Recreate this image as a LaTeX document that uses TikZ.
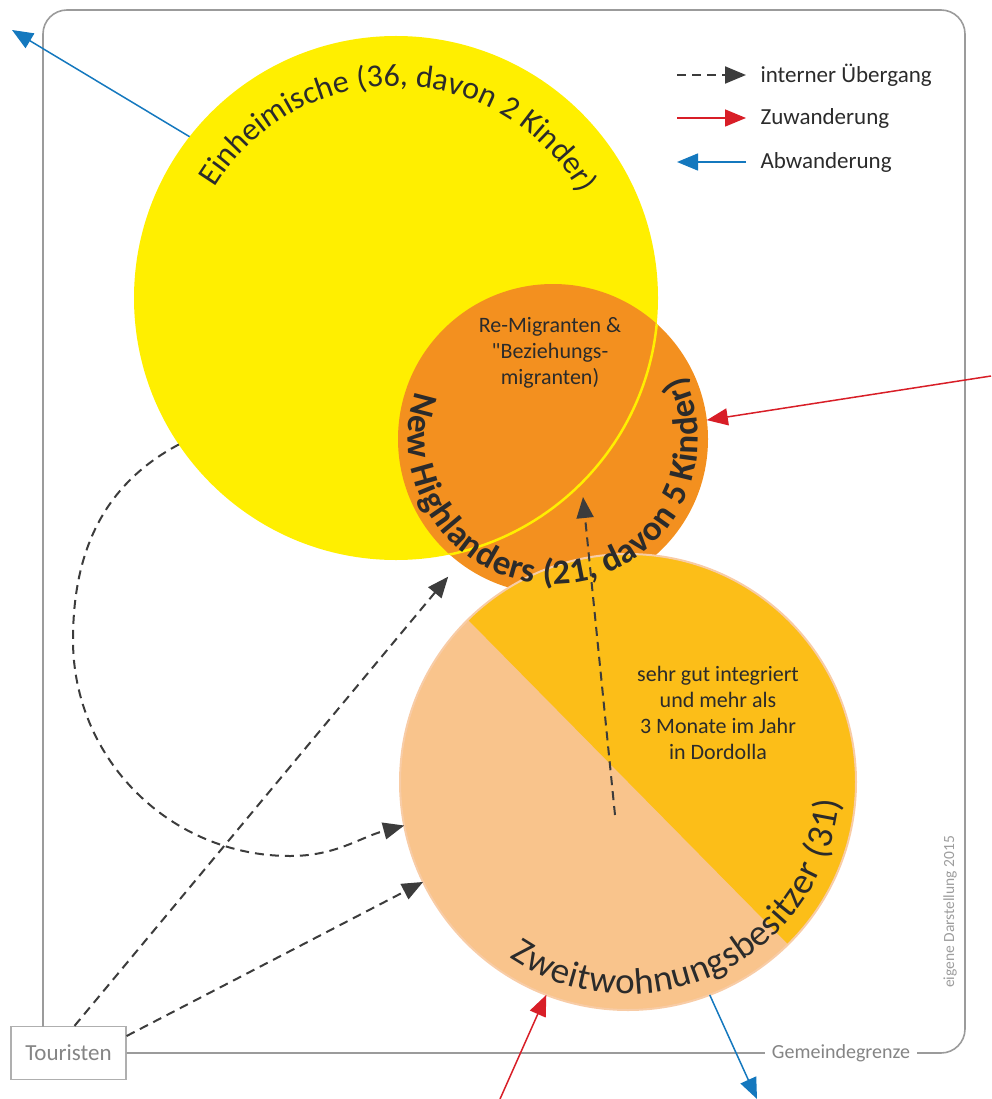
\documentclass[tikz,border=0pt]{standalone}
\usepackage{fontspec}
\setmainfont{Carlito}[Ligatures=TeXOff]
\usetikzlibrary{arrows.meta,decorations.text}

\definecolor{einh}{HTML}{FFEF00}
\definecolor{newh}{HTML}{F3901F}
\definecolor{zwlight}{HTML}{F9C48C}
\definecolor{zwdark}{HTML}{FCBE18}
\definecolor{zwrim}{HTML}{F8CCA6}
\definecolor{inred}{HTML}{D81E27}
\definecolor{outblue}{HTML}{1478BE}
\definecolor{dashgray}{HTML}{3C3C3C}
\definecolor{framegray}{HTML}{9B9B9B}
\definecolor{labelgray}{HTML}{858585}
\definecolor{txt}{HTML}{2B2B2B}

\begin{document}
\begin{tikzpicture}[x=1pt,y=1pt,
  group/.style={circle, inner sep=0pt, outer sep=0pt, minimum size=#1},
  internal/.style={dashgray, line width=2pt, dash pattern=on 9pt off 6pt,
    -{Triangle[length=21pt,width=17pt]}},
  inflow/.style={inred, line width=1.5pt, -{Triangle[length=21pt,width=17pt]}},
  outflow/.style={outblue, line width=1.5pt, -{Triangle[length=21pt,width=17pt]}},
  body/.style={font=\fontsize{22}{26}\selectfont, text=txt, align=center},
  keytext/.style={anchor=west, font=\fontsize{23}{23}\selectfont, text=txt},
  frame/.style={framegray, line width=1.6pt},
  ]
\useasboundingbox (0,0) rectangle (991,-1099);

% population groups
\node[group=524pt, fill=einh] (Y) at (396,-298) {};
\node[group=310pt, fill=newh] (O) at (553,-439) {};
\begin{scope}
  \clip (O.center) circle[radius=155pt];
  \draw[einh, line width=2.5pt] (Y.center) circle[radius=262pt];
\end{scope}
\node[group=456pt, fill=zwlight] (Z) at (628,-782) {};
\fill[zwdark] ([shift={(-45.4:228pt)}]Z.center)
  arc[start angle=-45.4, end angle=134.6, radius=228pt] -- cycle;
\draw[zwrim, line width=2pt] (Z.center) circle[radius=228pt];

% curved group labels
\path[decorate, decoration={text along path, text align=center,
    text={|\fontsize{32}{32}\selectfont\color{txt}|Einheimische (36, davon 2 Kinder)}}]
  ([shift={(151:212pt)}]Y.center) arc[start angle=151, end angle=27, radius=212pt];
\path[decorate, decoration={text along path, text align=fit to path,
    text={|\bfseries\fontsize{35}{35}\selectfont\color{txt}|New Highlanders (21, davon 5 Kinder)}}]
  ([shift={(161:145pt)}]O.center) arc[start angle=161, end angle=386, radius=145pt];
\path[decorate, decoration={text along path, text align=fit to path,
    text={|\fontsize{37}{37}\selectfont\color{txt}|Zweitwohnungsbesitzer (31)}}]
  ([shift={(236:212pt)}]Z.center) arc[start angle=236, end angle=355, radius=212pt];

% inner notes
\node[body] (remig) at (550,-353) {Re-Migranten \&\\"Beziehungs-\\migranten)};
\node[body] (integ) at (718,-713) {sehr gut integriert\\und mehr als\\3 Monate im Jahr\\in Dordolla};

% municipal boundary and tourists
\node[draw=framegray!80, line width=1.2pt, fill=white, minimum width=115pt,
  minimum height=53pt, inner sep=0pt, text=labelgray,
  font=\fontsize{23}{23}\selectfont] (tour) at (68.5,-1053) {Touristen};
\coordinate (fr1) at (43,-1026.5);
\draw[frame, rounded corners=24pt] (fr1) -- (43,-10) -- (965,-10) -- (965,-1053) -- (tour.east);
\node[fill=white, text=labelgray, font=\fontsize{20}{20}\selectfont, inner xsep=7pt]
  (gg) at (841,-1053) {Gemeindegrenze};
\node[rotate=90, text=labelgray!80, font=\fontsize{15.5}{15.5}\selectfont]
  (credit) at (950,-912) {eigene Darstellung 2015};

% internal transitions
\draw[internal] (Y.214) to[out=208,in=90] (73,-640) to[out=-90,in=180] (290,-856)
  to[out=0,in=195] (Z.191);
\draw[internal, shorten >=18pt] ([xshift=6pt]tour.north) -- (O.233);
\draw[internal] ([yshift=17pt]tour.east) -- (Z.206);
\coordinate (zin) at (615,-815);
\coordinate (oin) at (583,-497);
\draw[internal] (zin) -- (oin);

% immigration and emigration
\coordinate (nw) at (12,-30);
\draw[outflow] (Y.142) -- (nw);
\coordinate (eastin) at (991,-376);
\draw[inflow] (eastin) -- (O.7);
\coordinate (southin) at (500,-1099);
\draw[inflow] (southin) -- (Z.249);
\coordinate (southout) at (757,-1099);
\draw[outflow] (Z.-69) -- (southout);

% key
\coordinate (k1a) at (677,-75);  \coordinate (k1b) at (746,-75);
\coordinate (k2a) at (677,-118); \coordinate (k2b) at (746,-118);
\coordinate (k3a) at (746,-162); \coordinate (k3b) at (677,-162);
\draw[internal] (k1a) -- (k1b);
\draw[inflow] (k2a) -- (k2b);
\draw[outflow] (k3a) -- (k3b);
\node[keytext] (k1) at (757,-75) {interner Übergang};
\node[keytext] (k2) at (757,-118) {Zuwanderung};
\node[keytext] (k3) at (757,-162) {Abwanderung};
\end{tikzpicture}
\end{document}
